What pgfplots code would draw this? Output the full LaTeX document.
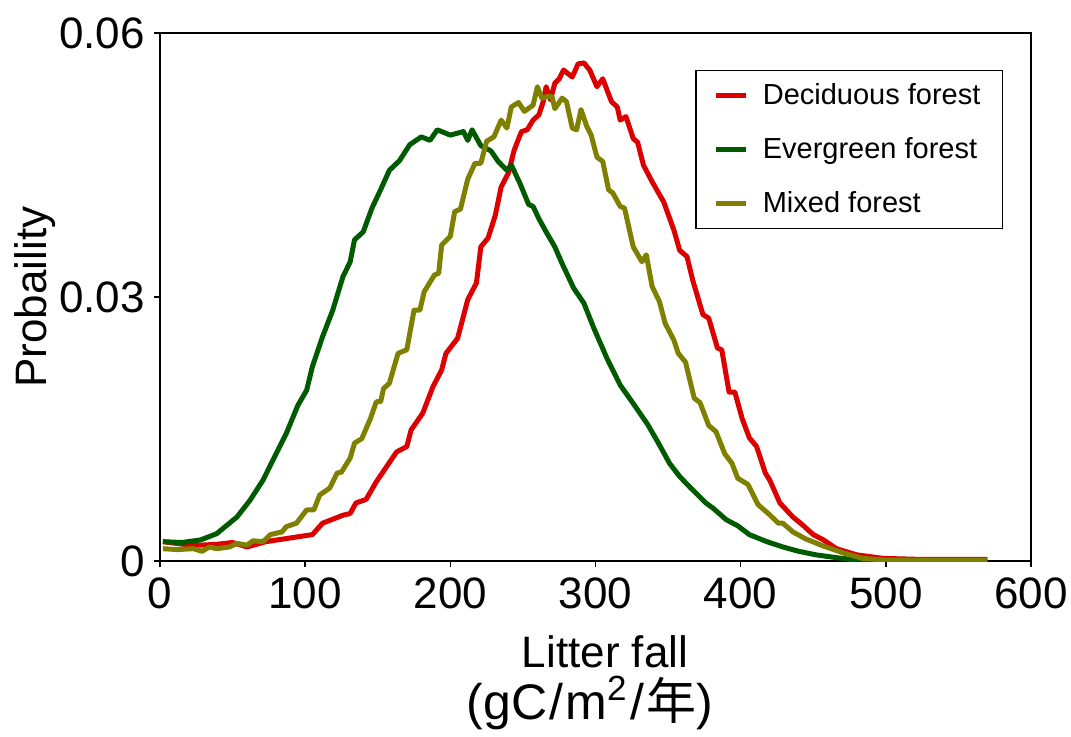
\documentclass[border=0pt]{standalone}
\usepackage{pgfplots}
\pgfplotsset{compat=1.18}
\usepackage{pgfplotstable}
\usepackage{fontspec}
\setmainfont{Liberation Sans}
\newfontfamily\cjk{Noto Sans CJK JP}
\definecolor{cred}{RGB}{220,0,0}
\definecolor{cgreen}{RGB}{0,90,0}
\definecolor{colive}{RGB}{128,128,0}

\pgfplotstableread{
x y
2 0.0022
16 0.0019
28 0.0018
39 0.0019
50 0.0021
60 0.0016
73 0.0022
89 0.0026
105 0.0030
112 0.0043
126 0.0052
131 0.0054
135 0.0066
142 0.0070
149 0.0090
156 0.0107
163 0.0124
170 0.0130
173 0.0149
181 0.0168
188 0.0198
194 0.0217
197 0.0236
205 0.0253
212 0.0297
218 0.0316
221 0.0357
226 0.0367
231 0.0393
235 0.0425
240 0.0441
244 0.0467
249 0.0488
253 0.0490
257 0.0501
261 0.0507
264 0.0522
266 0.0539
269 0.0524
272 0.0543
275 0.0548
278 0.0558
284 0.0550
288 0.0565
292 0.0566
296 0.0558
301 0.0539
305 0.0548
311 0.0522
315 0.0516
317 0.0501
321 0.0505
326 0.0480
329 0.0476
333 0.0450
339 0.0431
347 0.0408
354 0.0376
358 0.0353
363 0.0346
367 0.0319
374 0.0280
378 0.0276
384 0.0242
387 0.0240
392 0.0192
396 0.0192
401 0.0162
406 0.0140
411 0.0130
417 0.0100
420 0.0092
427 0.0066
436 0.0050
442 0.0042
450 0.0030
457 0.0024
466 0.0014
480 0.0007
498 0.0003
520 0.0002
545 0.0002
570 0.0002
}\deciduous

\pgfplotstableread{
x y
2 0.0022
15 0.0021
28 0.0024
39 0.0031
53 0.0050
62 0.0069
71 0.0092
80 0.0122
87 0.0145
95 0.0177
101 0.0194
105 0.0221
112 0.0255
119 0.0285
126 0.0323
131 0.0340
134 0.0365
140 0.0374
146 0.0401
152 0.0422
158 0.0444
165 0.0455
172 0.0473
180 0.0482
186 0.0478
191 0.0490
200 0.0484
209 0.0488
212 0.0478
215 0.0490
221 0.0472
228 0.0466
233 0.0454
239 0.0444
242 0.0450
248 0.0429
254 0.0405
257 0.0403
261 0.0389
266 0.0374
272 0.0357
277 0.0338
285 0.0310
292 0.0293
299 0.0264
308 0.0230
317 0.0200
326 0.0179
336 0.0155
343 0.0135
351 0.0111
358 0.0096
365 0.0084
376 0.0066
381 0.0060
390 0.0047
398 0.0040
406 0.0030
418 0.0022
429 0.0016
440 0.0011
452 0.0007
465 0.0004
475 0.0002
490 0.0001
510 0.0000
540 0.0000
570 0.0000
}\evergreen

\pgfplotstableread{
x y
2 0.0014
12 0.0013
23 0.0014
29 0.0011
34 0.0016
39 0.0014
48 0.0016
53 0.0020
60 0.0018
64 0.0023
71 0.0022
76 0.0030
84 0.0033
87 0.0039
94 0.0043
101 0.0058
106 0.0058
110 0.0075
117 0.0083
122 0.0100
125 0.0101
131 0.0117
134 0.0134
139 0.0139
145 0.0162
149 0.0181
152 0.0181
154 0.0196
158 0.0202
164 0.0236
170 0.0240
175 0.0285
179 0.0285
182 0.0306
189 0.0325
192 0.0327
194 0.0359
200 0.0369
203 0.0397
207 0.0400
212 0.0434
217 0.0452
221 0.0452
225 0.0477
230 0.0482
235 0.0501
239 0.0492
242 0.0516
247 0.0521
251 0.0511
257 0.0518
260 0.0539
263 0.0526
267 0.0528
270 0.0528
272 0.0514
277 0.0526
280 0.0522
284 0.0492
287 0.0490
290 0.0513
294 0.0494
297 0.0484
301 0.0459
305 0.0454
309 0.0422
312 0.0418
317 0.0403
320 0.0401
326 0.0357
332 0.0340
335 0.0348
339 0.0312
344 0.0295
348 0.0270
354 0.0251
357 0.0236
362 0.0226
368 0.0185
372 0.0180
378 0.0154
383 0.0147
389 0.0122
394 0.0111
398 0.0094
405 0.0087
412 0.0064
419 0.0054
426 0.0043
429 0.0043
436 0.0033
445 0.0025
457 0.0017
471 0.0009
484 0.0003
500 0.0001
530 0.0001
570 0.0001
}\mixed

\begin{document}
\begin{tikzpicture}
\path[use as bounding box] (-80pt,-87.5pt) rectangle (455.5pt,280.5pt);
\begin{axis}[
  scale only axis,
  width=435.5pt, height=264pt,
  xmin=0, xmax=600, ymin=0, ymax=0.06,
  xtick={0,100,200,300,400,500,600},
  ytick={0,0.03,0.06},
  yticklabels={0,0.03,0.06},
  scaled y ticks=false,
  tick align=outside,
  major tick length=3pt,
  tick style={black, line width=0.8pt},
  xtick pos=bottom, ytick pos=left,
  axis line style={line width=0.9pt},
  /pgf/number format/assume math mode=true,
  tick label style={font=\fontsize{22}{26}\selectfont},
  xticklabel style={yshift=-2pt},
  yticklabel style={xshift=-1pt},
  label style={font=\fontsize{22}{26}\selectfont},
  xlabel={\hspace*{15pt}Litter fall\\[0pt]{\fontsize{25}{28}\selectfont(gC\kern1pt/\kern1pt m\textsuperscript{2}\kern1.5pt/\kern1pt{\cjk 年})}},
  xlabel style={align=center, at={(axis description cs:0.4937,-0.127)}, anchor=north},
  ylabel={Probaility},
  ylabel style={at={(axis description cs:-0.1435,0.5)}, anchor=center},
  legend style={at={(rel axis cs:0.968,0.930)}, anchor=north east,
    draw=black, line width=0.7pt, font=\fontsize{14.5}{17}\selectfont,
    row sep=11pt, inner xsep=9pt, inner ysep=4.5pt},
  legend cell align=left,
  legend image code/.code={\draw[#1, line width=2.5pt] (0pt,0pt) -- (15pt,0pt); \path (20pt,0pt);},
  every axis plot/.append style={line width=2.5pt, line join=round},
]
\addplot[cred] table {\deciduous};
\addlegendentry{Deciduous forest}
\addplot[cgreen] table {\evergreen};
\addlegendentry{Evergreen forest}
\addplot[colive] table {\mixed};
\addlegendentry{Mixed forest}
\end{axis}
\end{tikzpicture}
\end{document}
